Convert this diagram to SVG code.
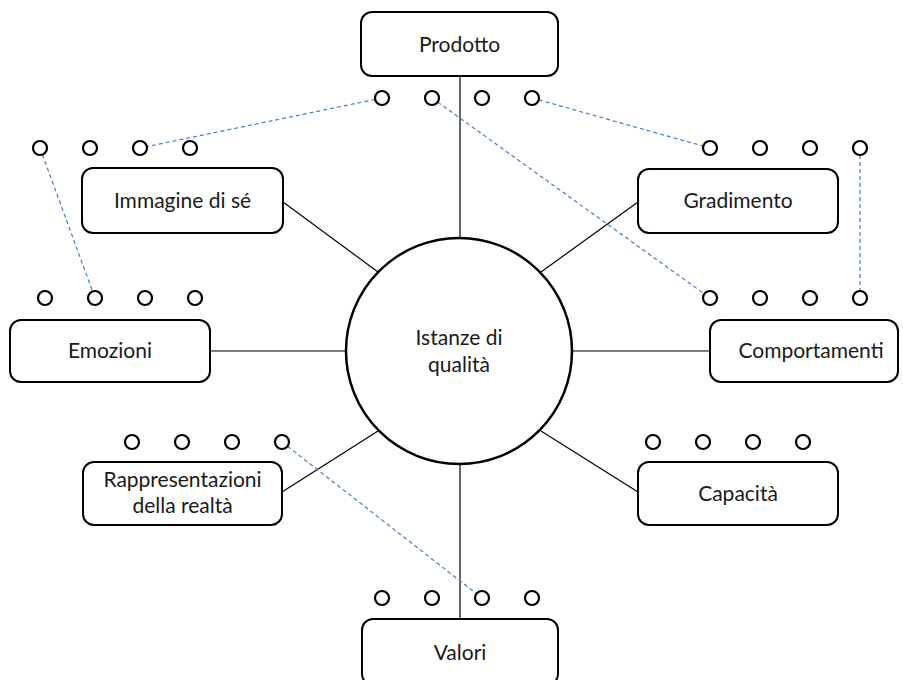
<svg xmlns="http://www.w3.org/2000/svg" width="903" height="680" viewBox="0 0 903 680">
  <style>
    .box { fill: #ffffff; stroke: #000000; stroke-width: 2; }
    .hub { fill: #ffffff; stroke: #000000; stroke-width: 2.5; }
    .spoke { stroke: #000000; stroke-width: 1.2; fill: none; }
    .link { stroke: #4a7ebb; stroke-width: 1.2; stroke-dasharray: 4 3; fill: none; }
    .dot { fill: #ffffff; stroke: #000000; stroke-width: 2.2; }
    .label { font-family: Lato, "Open Sans", "Liberation Sans", sans-serif; font-size: 21px; fill: #1a1a1a; text-anchor: middle; }
  </style>

  <!-- spokes from the hub to each category box -->
  <g id="connectors">
    <line class="spoke" x1="460" y1="76" x2="460" y2="238"/>
    <line class="spoke" x1="283" y1="202" x2="378" y2="272"/>
    <line class="spoke" x1="638" y1="202" x2="541" y2="272"/>
    <line class="spoke" x1="210" y1="351" x2="346" y2="351"/>
    <line class="spoke" x1="573" y1="351" x2="710" y2="351"/>
    <line class="spoke" x1="282" y1="492" x2="378" y2="431"/>
    <line class="spoke" x1="638" y1="492" x2="541" y2="431"/>
    <line class="spoke" x1="460" y1="464" x2="460" y2="619"/>

    <!-- dashed links between indicator dots -->
    <line class="link" x1="382" y1="98" x2="140" y2="148"/>
    <line class="link" x1="432" y1="98" x2="710" y2="298"/>
    <line class="link" x1="532" y1="98" x2="710" y2="148"/>
    <line class="link" x1="40" y1="148" x2="95" y2="298"/>
    <line class="link" x1="860" y1="148" x2="860" y2="298"/>
    <line class="link" x1="282" y1="442" x2="482" y2="598"/>
  </g>

  <g id="hub">
    <circle class="hub" cx="459" cy="351" r="113"/>
    <text class="label" x="459" y="345">Istanze di</text>
    <text class="label" x="459" y="372">qualità</text>
  </g>

  <g id="prodotto">
    <rect class="box" x="361" y="12" width="197" height="64" rx="11"/>
    <text class="label" x="459.5" y="52">Prodotto</text>
    <circle class="dot" cx="382" cy="98" r="7"/>
    <circle class="dot" cx="432" cy="98" r="7"/>
    <circle class="dot" cx="482" cy="98" r="7"/>
    <circle class="dot" cx="532" cy="98" r="7"/>
  </g>

  <g id="immagine">
    <rect class="box" x="82" y="168" width="201" height="65" rx="11"/>
    <text class="label" x="182.5" y="208">Immagine di sé</text>
    <circle class="dot" cx="40" cy="148" r="7"/>
    <circle class="dot" cx="90" cy="148" r="7"/>
    <circle class="dot" cx="140" cy="148" r="7"/>
    <circle class="dot" cx="190" cy="148" r="7"/>
  </g>

  <g id="gradimento">
    <rect class="box" x="638" y="169" width="200" height="64" rx="11"/>
    <text class="label" x="738" y="208">Gradimento</text>
    <circle class="dot" cx="710" cy="148" r="7"/>
    <circle class="dot" cx="760" cy="148" r="7"/>
    <circle class="dot" cx="810" cy="148" r="7"/>
    <circle class="dot" cx="860" cy="148" r="7"/>
  </g>

  <g id="emozioni">
    <rect class="box" x="10" y="320" width="200" height="62" rx="11"/>
    <text class="label" x="110" y="358">Emozioni</text>
    <circle class="dot" cx="45" cy="298" r="7"/>
    <circle class="dot" cx="95" cy="298" r="7"/>
    <circle class="dot" cx="145" cy="298" r="7"/>
    <circle class="dot" cx="195" cy="298" r="7"/>
  </g>

  <g id="comportamenti">
    <rect class="box" x="710" y="320" width="188" height="62" rx="11"/>
    <text class="label" x="811" y="358">Comportamenti</text>
    <circle class="dot" cx="710" cy="298" r="7"/>
    <circle class="dot" cx="760" cy="298" r="7"/>
    <circle class="dot" cx="810" cy="298" r="7"/>
    <circle class="dot" cx="860" cy="298" r="7"/>
  </g>

  <g id="rappresentazioni">
    <rect class="box" x="83" y="462" width="199" height="63" rx="11"/>
    <text class="label" x="182.5" y="487">Rappresentazioni</text>
    <text class="label" x="182.5" y="513">della realtà</text>
    <circle class="dot" cx="132" cy="442" r="7"/>
    <circle class="dot" cx="182" cy="442" r="7"/>
    <circle class="dot" cx="232" cy="442" r="7"/>
    <circle class="dot" cx="282" cy="442" r="7"/>
  </g>

  <g id="capacita">
    <rect class="box" x="638" y="462" width="200" height="63" rx="11"/>
    <text class="label" x="738" y="501">Capacità</text>
    <circle class="dot" cx="653" cy="442" r="7"/>
    <circle class="dot" cx="703" cy="442" r="7"/>
    <circle class="dot" cx="753" cy="442" r="7"/>
    <circle class="dot" cx="803" cy="442" r="7"/>
  </g>

  <g id="valori">
    <rect class="box" x="362" y="619" width="196" height="66" rx="11"/>
    <text class="label" x="460" y="660">Valori</text>
    <circle class="dot" cx="382" cy="598" r="7"/>
    <circle class="dot" cx="432" cy="598" r="7"/>
    <circle class="dot" cx="482" cy="598" r="7"/>
    <circle class="dot" cx="532" cy="598" r="7"/>
  </g>
</svg>
